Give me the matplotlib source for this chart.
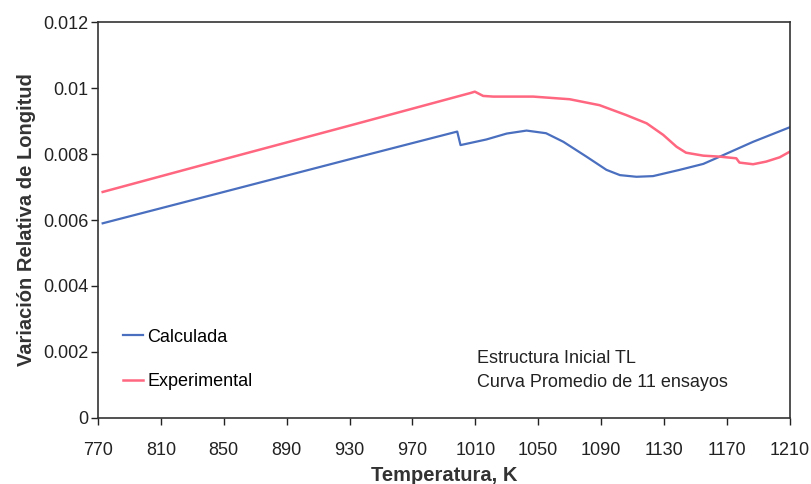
import matplotlib.pyplot as plt

plt.rcParams['font.family'] = ['Liberation Sans', 'DejaVu Sans']

# curve data
temp_calc = [773, 850, 930, 998.5, 1000.6, 1017, 1030, 1042.6, 1055, 1066,
             1080.7, 1093.4, 1102, 1112.5, 1123, 1140, 1155, 1165.5, 1186.7,
             1210]
calc = [0.00590, 0.00685, 0.00784, 0.00868, 0.00827, 0.00844, 0.00862,
        0.00871, 0.00863, 0.00837, 0.00792, 0.00752, 0.00736, 0.00731,
        0.00733, 0.00752, 0.00770, 0.00792, 0.00837, 0.00881]

temp_exp = [773, 850, 930, 1007, 1009.7, 1015, 1021.4, 1046.8, 1070, 1089,
            1106, 1119, 1129.5, 1138, 1144, 1155, 1165.5, 1176, 1178, 1186.7,
            1195, 1203.6, 1210]
exp = [0.00685, 0.00784, 0.00886, 0.00985, 0.00989, 0.00976, 0.00974,
       0.00974, 0.00966, 0.00948, 0.00918, 0.00893, 0.00858, 0.00822,
       0.00804, 0.00795, 0.00792, 0.00787, 0.00774, 0.00769, 0.00777,
       0.00790, 0.00807]

xticks = list(range(770, 1211, 40))
yticks = [0, 0.002, 0.004, 0.006, 0.008, 0.01, 0.012]
ytick_labels = ['0', '0.002', '0.004', '0.006', '0.008', '0.01', '0.012']

fig = plt.figure(figsize=(8.11, 4.84), dpi=100)
ax = fig.add_axes([0.1208, 0.1364, 0.853, 0.8181])

ax.plot(temp_calc, calc, color='#4a6fbf', linewidth=1.6, label='Calculada')
ax.plot(temp_exp, exp, color='#ff6680', linewidth=1.8, label='Experimental')

ax.set_xlim(770, 1210)
ax.set_ylim(0, 0.012)
ax.set_xticks(xticks)
ax.set_yticks(yticks)
ax.set_yticklabels(ytick_labels)
ax.tick_params(direction='out', length=5, width=1, labelsize=13,
               colors='#222222')
ax.tick_params(axis='x', pad=12)
ax.tick_params(axis='y', pad=2)
for s in ax.spines.values():
    s.set_color('#333333')
    s.set_linewidth(1.2)

ax.set_xlabel('Temperatura, K', fontsize=14.5, fontweight='bold',
              color='#333333', labelpad=5)
ax.set_ylabel('Variación Relativa de Longitud', fontsize=14.5,
              fontweight='bold', color='#333333', labelpad=5)

ax.legend(loc='lower left', bbox_to_anchor=(0.013, 0.03), frameon=False,
          fontsize=13, handlelength=1.1, handletextpad=0.25, labelspacing=1.5)

ax.text(0.548, 0.067, 'Estructura Inicial TL\nCurva Promedio de 11 ensayos',
        transform=ax.transAxes, fontsize=13, color='#222222',
        va='bottom', ha='left', linespacing=1.6)

fig.savefig('out.png', dpi=100)
